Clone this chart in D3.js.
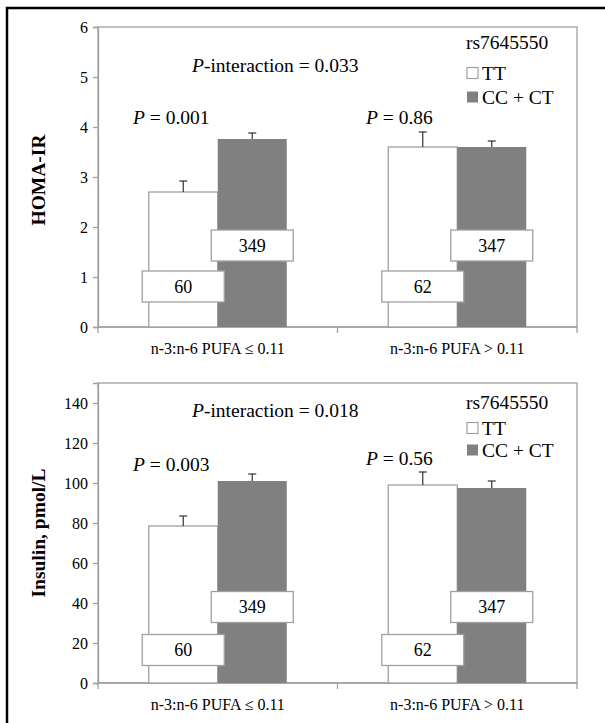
<!DOCTYPE html>
<html>
<head>
<meta charset="utf-8">
<script src="https://cdn.jsdelivr.net/npm/d3@7"></script>
<style>
  body { margin: 0; background: #fff; }
</style>
</head>
<body>
<svg id="chart" width="605" height="723"></svg>
<script>
// categories and groups
var categories = ["n-3:n-6 PUFA \u2264 0.11", "n-3:n-6 PUFA > 0.11"];
var genotypes = ["TT", "CC + CT"];
var snp = "rs7645550";

// HOMA-IR panel
var homaTT = [2.7, 3.6];
var homaCC = [3.76, 3.6];
var homaTTse = [0.22, 0.3];
var homaCCse = [0.12, 0.12];
var homaTicks = [0, 1, 2, 3, 4, 5, 6];

// insulin panel
var insTT = [78.5, 99];
var insCC = [101, 97.5];
var insTTse = [5, 6.5];
var insCCse = [3.5, 3.5];
var insTicks = [0, 20, 40, 60, 80, 100, 120, 140];

// group sizes
var nTT = [60, 62];
var nCC = [349, 347];

// p values
var pInteraction = ["0.033", "0.018"];
var pHoma = ["0.001", "0.86"];
var pIns = ["0.003", "0.56"];

var serif = "'Liberation Serif', 'Times New Roman', serif";
var svg = d3.select("#chart");

// outer frame (top + left edges)
svg.append("path")
  .attr("d", "M7,723 L7,8 L605,8")
  .attr("fill", "none")
  .attr("stroke", "#000")
  .attr("stroke-width", 2.5);

var panels = [
  { top: 27, bottom: 327, max: 6, ticks: homaTicks, title: "HOMA-IR",
    tt: homaTT, cc: homaCC, ttse: homaTTse, ccse: homaCCse, pGroup: pHoma, pInt: pInteraction[0],
    yInt: 5.24, yRs: 5.69, yLegTT: 5.08, yLegCC: 4.6, yP: [4.2, 4.2], yBoxTT: 0.81, yBoxCC: 1.63, titleY: 180 },
  { top: 383, bottom: 683, max: 150, ticks: insTicks, title: "Insulin, pmol/L",
    tt: insTT, cc: insCC, ttse: insTTse, ccse: insCCse, pGroup: pIns, pInt: pInteraction[1],
    yInt: 136.5, yRs: 140.5, yLegTT: 127.5, yLegCC: 116.5, yP: [109.5, 112.5], yBoxTT: 16.5, yBoxCC: 38, titleY: 533 }
];

var left = 98, right = 577;
var grey = "#a0a0a0";

function txt(sel, size) {
  return sel.style("font-family", serif).style("font-size", size + "px").attr("fill", "#000");
}

panels.forEach(function(p) {
  var x0 = d3.scaleBand().domain(categories).range([left, right])
    .paddingInner(0.4238).paddingOuter(0.2119);
  var x1 = d3.scaleBand().domain(genotypes).range([0, x0.bandwidth()]);
  var y = d3.scaleLinear().domain([0, p.max]).range([p.bottom, p.top]);

  var g = svg.append("g");

  // plot box
  g.append("rect")
    .attr("x", left).attr("y", p.top)
    .attr("width", right - left).attr("height", p.bottom - p.top)
    .attr("fill", "none").attr("stroke", grey).attr("stroke-width", 1.3);

  // y axis
  var ya = g.append("g")
    .attr("transform", "translate(" + left + ",0)")
    .call(d3.axisLeft(y).tickValues(p.ticks).tickFormat(d3.format("d")).tickSize(5).tickPadding(5));
  ya.select(".domain").attr("stroke", grey).attr("stroke-width", 1.3);
  ya.selectAll(".tick line").attr("stroke", grey).attr("stroke-width", 1.3);
  txt(ya.selectAll(".tick text"), 16);

  // x axis: ticks at category boundaries
  var xa = g.append("g").attr("transform", "translate(0," + p.bottom + ")");
  xa.append("line").attr("x1", left).attr("x2", right)
    .attr("stroke", grey).attr("stroke-width", 1.3);
  var bounds = [left, (left + right) / 2, right];
  xa.selectAll(".bt").data(bounds).enter().append("line")
    .attr("x1", function(d) { return d; }).attr("x2", function(d) { return d; })
    .attr("y1", 0).attr("y2", 6)
    .attr("stroke", grey).attr("stroke-width", 1.3);
  txt(xa.selectAll(".cl").data(categories).enter().append("text"), 16)
    .attr("x", function(d) { return x0(d) + x0.bandwidth() / 2; })
    .attr("y", 21)
    .attr("dy", "0.35em")
    .attr("text-anchor", "middle")
    .text(function(d) { return d; });

  // y title
  txt(g.append("text"), 19.5)
    .attr("transform", "translate(38," + p.titleY + ") rotate(-90)")
    .attr("text-anchor", "middle")
    .attr("dy", "0.35em")
    .style("font-weight", "bold")
    .text(p.title);

  // bars
  var rows = categories.map(function(c, i) {
    return [
      { cat: c, gen: genotypes[0], v: p.tt[i], se: p.ttse[i], n: nTT[i], by: p.yBoxTT },
      { cat: c, gen: genotypes[1], v: p.cc[i], se: p.ccse[i], n: nCC[i], by: p.yBoxCC }
    ];
  });
  var flat = [].concat.apply([], rows);

  g.selectAll(".bar").data(flat).enter().append("rect")
    .attr("x", function(d) { return x0(d.cat) + x1(d.gen); })
    .attr("y", function(d) { return y(d.v); })
    .attr("width", x1.bandwidth())
    .attr("height", function(d) { return y(0) - y(d.v); })
    .attr("fill", function(d) { return d.gen == "TT" ? "#fff" : "#808080"; })
    .attr("stroke", function(d) { return d.gen == "TT" ? grey : "none"; })
    .attr("stroke-width", 1.3);

  // error bars (upper half only)
  flat.forEach(function(d) {
    var cx = x0(d.cat) + x1(d.gen) + x1.bandwidth() / 2;
    g.append("line").attr("x1", cx).attr("x2", cx)
      .attr("y1", y(d.v)).attr("y2", y(d.v + d.se))
      .attr("stroke", "#333").attr("stroke-width", 1.2);
    g.append("line").attr("x1", cx - 4).attr("x2", cx + 4)
      .attr("y1", y(d.v + d.se)).attr("y2", y(d.v + d.se))
      .attr("stroke", "#333").attr("stroke-width", 1.2);
  });

  // n boxes
  flat.forEach(function(d) {
    var cx = x0(d.cat) + x1(d.gen) + x1.bandwidth() / 2;
    var cy = y(d.by);
    g.append("rect")
      .attr("x", cx - 41).attr("y", cy - 15.5)
      .attr("width", 82).attr("height", 31)
      .attr("fill", "#fff").attr("stroke", grey).attr("stroke-width", 1.3);
    txt(g.append("text"), 18)
      .attr("x", cx).attr("y", cy).attr("dy", "0.35em")
      .attr("text-anchor", "middle")
      .text(d.n);
  });

  // P-interaction
  var ti = txt(g.append("text"), 19.5)
    .attr("x", 192).attr("y", y(p.yInt)).attr("dy", "0.35em");
  ti.append("tspan").style("font-style", "italic").text("P");
  ti.append("tspan").text("-interaction = " + p.pInt);

  // group P values
  var pX = [133, 366];
  p.pGroup.forEach(function(v, i) {
    var t = txt(g.append("text"), 19.5)
      .attr("x", pX[i]).attr("y", y(p.yP[i])).attr("dy", "0.35em");
    t.append("tspan").style("font-style", "italic").text("P");
    t.append("tspan").text(" = " + v);
  });

  // legend
  txt(g.append("text"), 19.5)
    .attr("x", 466).attr("y", y(p.yRs)).attr("dy", "0.35em")
    .text(snp);
  var legY = [p.yLegTT, p.yLegCC];
  genotypes.forEach(function(gen, i) {
    var cy = y(legY[i]);
    g.append("rect")
      .attr("x", 467).attr("y", cy - 5.5)
      .attr("width", 11).attr("height", 11)
      .attr("fill", i == 0 ? "#fff" : "#808080")
      .attr("stroke", i == 0 ? grey : "none").attr("stroke-width", 1.2);
    txt(g.append("text"), 19.5)
      .attr("x", 482).attr("y", cy).attr("dy", "0.35em")
      .text(gen);
  });
});
</script>
</body>
</html>
